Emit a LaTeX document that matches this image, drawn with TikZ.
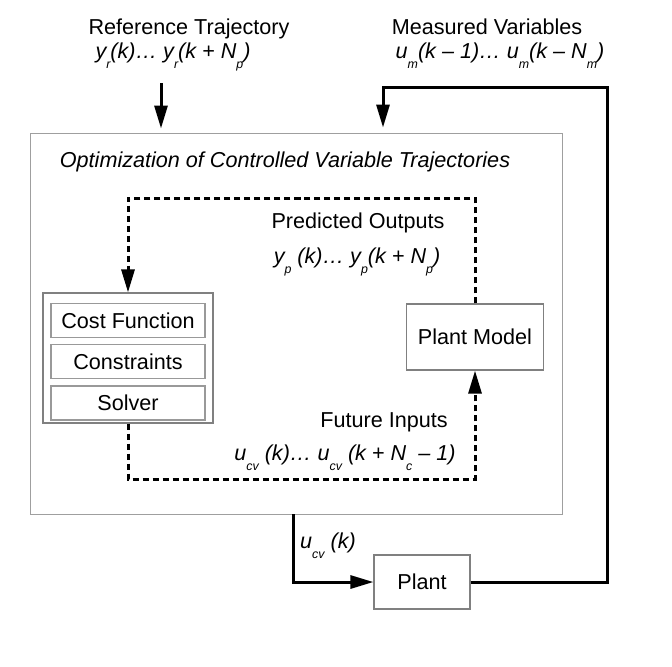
\documentclass[tikz,border=0pt]{standalone}
\usepackage{fontspec}
\setmainfont{Liberation Sans}
\usetikzlibrary{positioning,arrows.meta}
\newcommand{\lowsub}[1]{\raisebox{-0.5em}{\fontsize{6.2}{7}\selectfont #1}}

\begin{document}
\begin{tikzpicture}[
		x=0.5pt, y=-0.5pt,
		font=\fontsize{10.8}{13}\selectfont,
		node distance=3pt,
		block/.style = {draw=gray, line width=0.6pt, inner sep=0pt, fill=white},
		part/.style = {block, draw=gray!80, minimum width=77pt, minimum height=17pt},
		txt/.style = {inner sep=0pt, anchor=base},
		sig/.style = {txt, font=\fontsize{10.8}{13}\selectfont\itshape},
		flow/.style = {line width=1.5pt, -{Triangle[length=11.5pt, width=6.5pt]}},
		pred/.style = {flow, dash pattern=on 3pt off 2pt}
	]
	\useasboundingbox (0,0) rectangle (672,666);
	% Outer block.
	\node[block, draw=gray!75, line width=0.5pt, minimum width=266pt, minimum height=190.5pt] (opt) at (296,323.5) {};
	\node[sig] (opttitle) at (285,167) {Optimization of Controlled Variable Trajectories};
	% Optimizer.
	\node[block, minimum width=85pt, minimum height=65pt] (optim) at (128,358) {};
	\node[part] (cost) at (128,320.5) {Cost Function};
	\node[part, below=3pt of cost] (cons) {Constraints};
	\node[part, below=3pt of cons] (solver) {Solver};
	% Models.
	\node[block, minimum width=68.5pt, minimum height=33pt] (pmodel) at (475,337) {Plant Model};
	\node[block, minimum width=48pt, minimum height=27pt] (plant) at (422,582) {Plant};
	% Labels.
	\node[txt] (reftitle) at (189,34) {Reference Trajectory};
	\node[sig] (refsig) at (173,58) {y\lowsub{r}(k)… y\lowsub{r}(k + N\lowsub{p})};
	\node[txt] (meastitle) at (487,34) {Measured Variables};
	\node[sig] (meassig) at (500,58) {u\lowsub{m}(k – 1)… u\lowsub{m}(k – N\lowsub{m})};
	\node[txt] (predtitle) at (358,228) {Predicted Outputs};
	\node[sig] (predsig) at (357,263) {y\lowsub{p} (k)… y\lowsub{p}(k + N\lowsub{p})};
	\node[txt] (futtitle) at (384,427) {Future Inputs};
	\node[sig] (futsig) at (345,460) {u\lowsub{cv} (k)… u\lowsub{cv} (k + N\lowsub{c} – 1)};
	\node[sig] (ucv) at (328,548) {u\lowsub{cv} (k)};

	\coordinate (refin) at (161,83);
	\coordinate (fbr) at (607,87);
	\coordinate (fbl) at (383,87);
	\coordinate (uout) at (293,514);
	\coordinate (predtop) at (300,198);
	\coordinate (futbot) at (300,479);

	\draw[flow, shorten >=2pt] (refin) -- (refin |- opt.north);
	\draw[flow, shorten >=2.5pt] (plant.east) -| (fbr) -- (fbl) -- (fbl |- opt.north);
	\draw[flow] (uout) |- (plant.west);
	\draw[pred] (pmodel.north) |- (predtop) -| (optim.north);
	\draw[pred] (optim.south) |- (futbot) -| (pmodel.south);
\end{tikzpicture}
\end{document}
